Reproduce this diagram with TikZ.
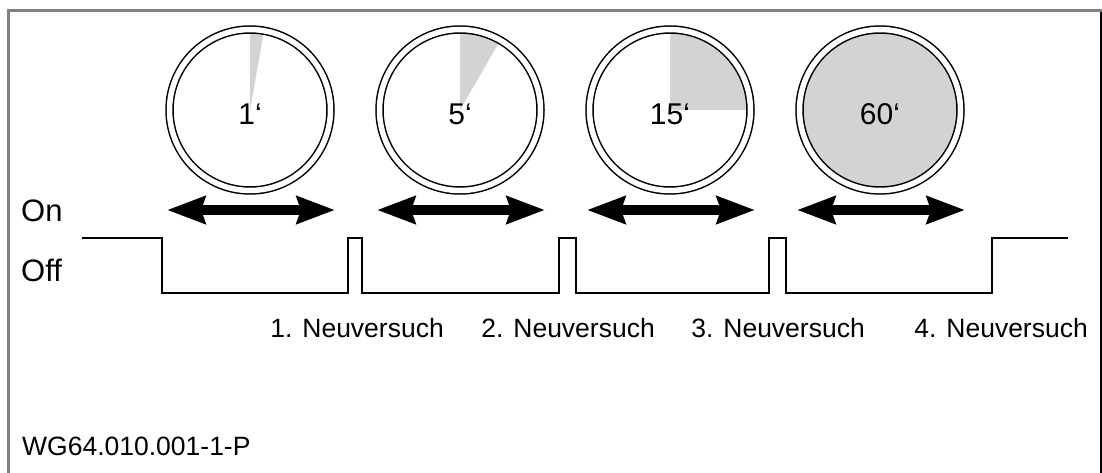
\documentclass[tikz,border=0pt]{standalone}
\usepackage{fontspec}
\setmainfont{Liberation Sans}
\usetikzlibrary{arrows.meta}
\definecolor{sectorgray}{HTML}{D1D3D4}
\definecolor{framegray}{HTML}{808080}
\tikzset{
  clockface/.style={circle, draw=black, line width=1.5pt, double=white, double distance=5.5pt, minimum size=161pt, inner sep=0pt},
  sector/.style={fill=sectorgray, draw=none},
  bigtext/.style={font=\fontsize{30}{36}\selectfont, inner sep=0pt, anchor=base},
  statetext/.style={font=\fontsize{31}{37}\selectfont, inner sep=0pt, anchor=base west},
  labeltext/.style={font=\fontsize{26.5}{32}\selectfont, inner sep=0pt, anchor=base},
  dblarrow/.style={line width=10pt, {Stealth[length=38pt,width=27pt,inset=4pt]}-{Stealth[length=38pt,width=27pt,inset=4pt]}},
  signal/.style={line width=2pt, line join=miter},
  frameline/.style={draw=framegray, line width=2.5pt}
}
\begin{document}
\begin{tikzpicture}[x=1pt,y=-1pt]
\useasboundingbox (0,0) rectangle (1102,473);
% frame
\draw[frameline] (8.5,473) -- (8.5,10.5) -- (1102,10.5);
\draw[line width=2pt] (1101,12) -- (1101,473);

% sectors
\coordinate (s1) at (250,110);
\coordinate (s2) at (460,110);
\coordinate (s3) at (670,110);
\fill[sector] (s1) -- ++(-90:77) arc[start angle=-90, end angle=-80, radius=77] -- cycle;
\fill[sector] (s2) -- ++(-90:77) arc[start angle=-90, end angle=-60, radius=77] -- cycle;
\fill[sector] (s3) -- ++(-90:77) arc[start angle=-90, end angle=0, radius=77] -- cycle;

% clock faces
\node[clockface] (c1) at (250,110) {};
\node[clockface] (c2) at (460,110) {};
\node[clockface] (c3) at (670,110) {};
\node[clockface, fill=sectorgray] (c4) at (880,110) {};

\node[bigtext] (t1) at (250,125) {1‘};
\node[bigtext] (t2) at (460,125) {5‘};
\node[bigtext] (t3) at (670,125) {15‘};
\node[bigtext] (t4) at (880,125) {60‘};

% double arrows
\foreach \i/\cx in {1/250,2/460,3/670,4/880}{
  \coordinate (al\i) at (\cx-83,210);
  \coordinate (ar\i) at (\cx+85,210);
  \draw[dblarrow] (al\i) -- (ar\i);
}

% On / Off
\node[statetext] (on) at (21,222) {On};
\node[statetext] (off) at (21,281) {Off};

% signal
\draw[signal] (82,238) -- (162,238) -- (162,293) -- (348,293) -- (348,238) -- (362,238) -- (362,293)
  -- (559,293) -- (559,238) -- (576,238) -- (576,293)
  -- (769,293) -- (769,238) -- (786,238) -- (786,293)
  -- (992,293) -- (992,238) -- (1068,238);

% labels
\node[labeltext, anchor=base east] (n1) at (444,337) {1. Neuversuch};
\node[labeltext, anchor=base east] (n2) at (655,337) {2. Neuversuch};
\node[labeltext, anchor=base east] (n3) at (865,337) {3. Neuversuch};
\node[labeltext, anchor=base east] (n4) at (1088,337) {4. Neuversuch};

\node[labeltext, anchor=base west] (id) at (22,455) {WG64.010.001-1-P};
\end{tikzpicture}
\end{document}
